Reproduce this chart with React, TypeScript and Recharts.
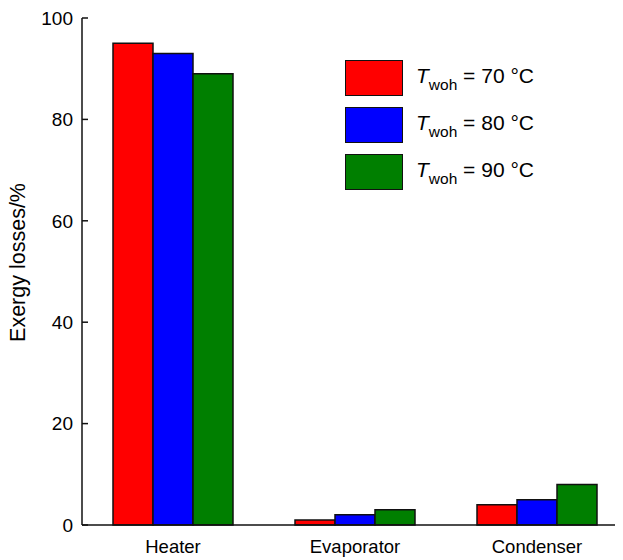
import React from 'react';
import { BarChart, Bar, XAxis, YAxis, Legend, Label } from 'recharts';

// Exergy losses per component for three hot-water outlet temperatures
const components = ['Heater', 'Evaporator', 'Condenser'];
const loss70 = [95, 1, 4];
const loss80 = [93, 2, 5];
const loss90 = [89, 3, 8];
const yTicks = [0, 20, 40, 60, 80, 100];

const series = [
  { key: 't70', temp: 70, color: '#ff0000', values: loss70 },
  { key: 't80', temp: 80, color: '#0000ff', values: loss80 },
  { key: 't90', temp: 90, color: '#007f00', values: loss90 },
];

const data = components.map((name, i) => {
  const row: Record<string, string | number> = { name };
  series.forEach((s) => {
    row[s.key] = s.values[i];
  });
  return row;
});

const FONT = '"Liberation Sans", Arial, Helvetica, sans-serif';
const INK = '#111';

const LegendBox = () => (
  <div style={{ display: 'flex', flexDirection: 'column', gap: 11, fontFamily: FONT }}>
    {series.map((s) => (
      <div key={s.key} style={{ display: 'flex', alignItems: 'center', height: 36 }}>
        <div
          style={{
            width: 58,
            height: 36,
            boxSizing: 'border-box',
            background: s.color,
            border: `1.5px solid ${INK}`,
          }}
        />
        <div
          style={{
            marginLeft: 13,
            fontSize: 21,
            color: '#000',
            lineHeight: '36px',
            whiteSpace: 'nowrap',
            position: 'relative',
            top: 2,
          }}
        >
          <span style={{ fontStyle: 'italic' }}>T</span>
          <span style={{ fontSize: 15.5, verticalAlign: '-7px' }}>woh</span>
          {` = ${s.temp} °C`}
        </div>
      </div>
    ))}
  </div>
);

const YTitle = (props: any) => {
  const vb = props.viewBox || { x: 0, y: 0, width: 0, height: 0 };
  const cx = vb.x + 25;
  const cy = vb.y + vb.height / 2 - 9;
  return (
    <text
      x={cx}
      y={cy}
      transform={`rotate(-90 ${cx} ${cy})`}
      textAnchor="middle"
      fontFamily={FONT}
      fontSize={21.5}
      fill="#000"
    >
      Exergy losses/%
    </text>
  );
};

export default function App() {
  return (
    <div style={{ marginLeft: -8, marginTop: -8, width: 623, height: 560, overflow: 'hidden', background: '#fff' }}>
      <BarChart
        width={640}
        height={560}
        data={data}
        margin={{ top: 18, right: 12, bottom: 0, left: 0 }}
        barGap={0}
        barSize={40}
      >
        <XAxis
          dataKey="name"
          xAxisId="bottom"
          orientation="bottom"
          height={35}
          axisLine={{ stroke: INK, strokeWidth: 1.5 }}
          tickLine={false}
          tickSize={0}
          tickMargin={15}
          tick={{ fill: '#000', fontSize: 18.5, fontFamily: FONT }}
        />
        <XAxis
          dataKey="name"
          xAxisId="top"
          orientation="top"
          height={0}
          axisLine={{ stroke: INK, strokeWidth: 1.5 }}
          tickLine={{ stroke: INK, strokeWidth: 1.5 }}
          tickSize={-6}
          tick={{ fill: 'none', fontSize: 1 }}
        />
        <YAxis
          yAxisId="left"
          orientation="left"
          width={82}
          domain={[0, 100]}
          ticks={yTicks}
          interval={0}
          axisLine={{ stroke: INK, strokeWidth: 1.5 }}
          tickLine={{ stroke: INK, strokeWidth: 1.5 }}
          tickSize={-6}
          tickMargin={15}
          tick={{ fill: '#000', fontSize: 19, fontFamily: FONT }}
        >
          <Label content={<YTitle />} />
        </YAxis>
        <YAxis
          yAxisId="right"
          orientation="right"
          width={0}
          domain={[0, 100]}
          ticks={yTicks}
          interval={0}
          axisLine={{ stroke: INK, strokeWidth: 1.5 }}
          tickLine={{ stroke: INK, strokeWidth: 1.5 }}
          tickSize={-6}
          tick={{ fill: 'none', fontSize: 1 }}
        />
        <Legend
          layout="vertical"
          align="center"
          verticalAlign="middle"
          content={<LegendBox />}
          wrapperStyle={{ position: 'absolute', left: 345, top: 60, width: 'auto', height: 'auto' }}
        />
        {series.map((s) => (
          <Bar
            key={s.key}
            dataKey={s.key}
            xAxisId="bottom"
            yAxisId="left"
            fill={s.color}
            stroke={INK}
            strokeWidth={1.5}
            isAnimationActive={false}
          />
        ))}
      </BarChart>
    </div>
  );
}
